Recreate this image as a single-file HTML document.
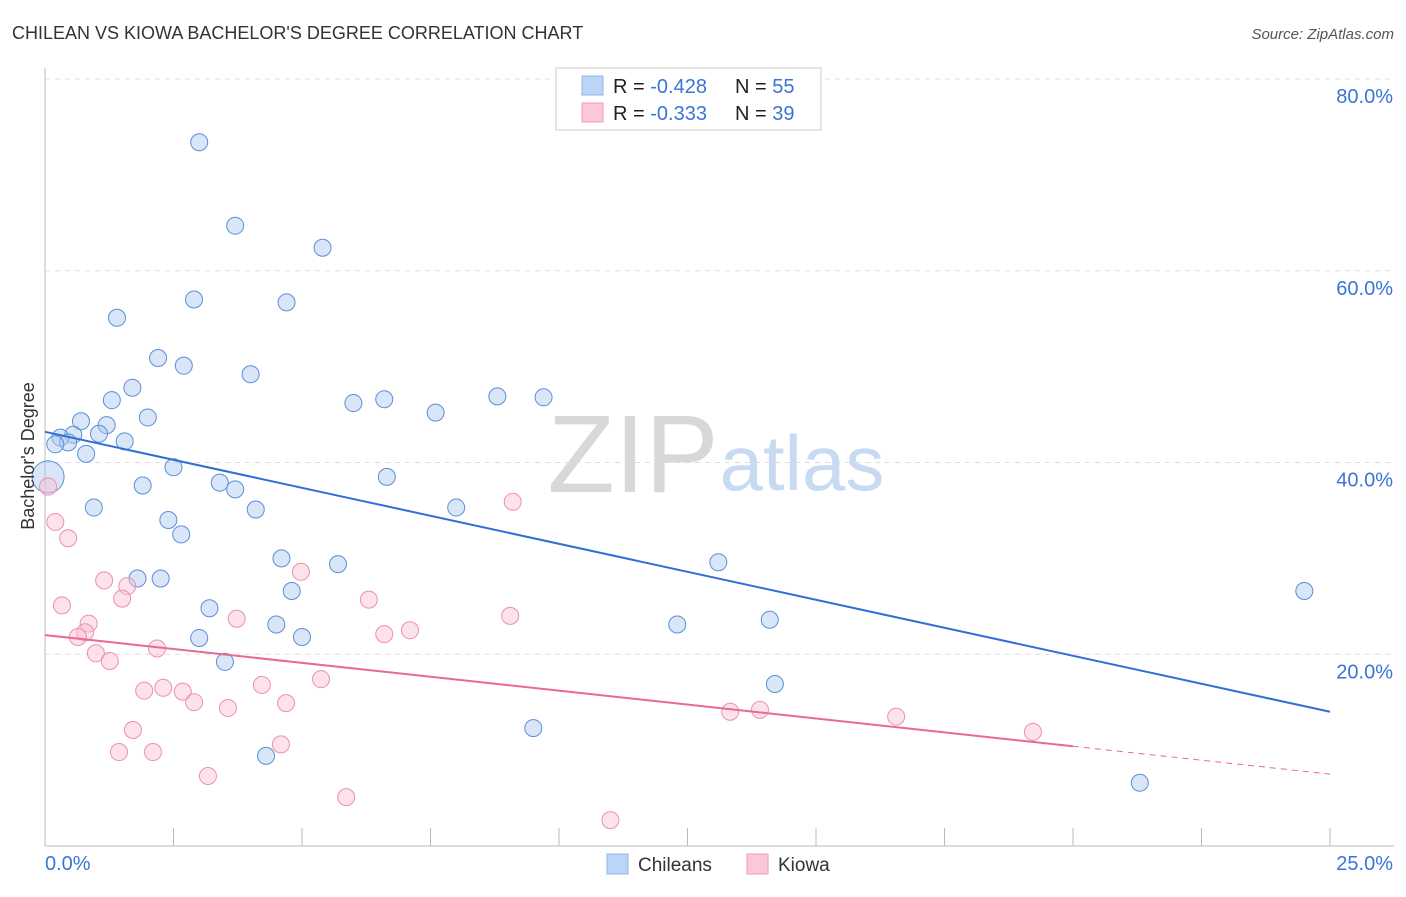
<!DOCTYPE html>
<html><head><meta charset="utf-8"><style>
body{margin:0;background:#fff;font-family:"Liberation Sans",sans-serif}
svg text{font-family:"Liberation Sans",sans-serif}
</style></head><body>
<svg id="c" width="1406" height="892" viewBox="0 0 1406 892" xmlns="http://www.w3.org/2000/svg">
<text x="12" y="39" font-size="18" fill="#333">CHILEAN VS KIOWA BACHELOR'S DEGREE CORRELATION CHART</text>
<text x="1394" y="39" font-size="15" fill="#555" font-style="italic" text-anchor="end">Source: ZipAtlas.com</text>
<g>
<text x="633" y="492" font-size="110" fill="#d8d8d8" font-family="Liberation Serif" text-anchor="middle">ZIP</text>
<text x="802" y="490" font-size="78" fill="#c8daf2" text-anchor="middle">atlas</text>
</g>
<g id="grid"></g>
<g id="axes"></g>
<g id="marks"></g>
<text transform="translate(34,456) rotate(-90)" font-size="18" fill="#333" text-anchor="middle">Bachelor's Degree</text>
<g>
<rect x="556" y="68" width="265" height="62" fill="#fff" stroke="#ccc"/>
<rect x="582" y="76" width="21" height="19" fill="#bcd4f6" stroke="#8fb3e8"/>
<rect x="582" y="103" width="21" height="19" fill="#fcc8d8" stroke="#f09ab5"/>
<text x="613" y="93" font-size="20" fill="#222">R = <tspan fill="#3a74d8">-0.428</tspan></text>
<text x="735" y="93" font-size="20" fill="#222">N = <tspan fill="#3a74d8">55</tspan></text>
<text x="613" y="120" font-size="20" fill="#222">R = <tspan fill="#3a74d8">-0.333</tspan></text>
<text x="735" y="120" font-size="20" fill="#222">N = <tspan fill="#3a74d8">39</tspan></text>
</g>
<g>
<rect x="607" y="854" width="21" height="20" fill="#bcd4f6" stroke="#8fb3e8"/>
<text x="638" y="871" font-size="19" fill="#333">Chileans</text>
<rect x="747" y="854" width="21" height="20" fill="#fcc8d8" stroke="#f09ab5"/>
<text x="778" y="871" font-size="19" fill="#333">Kiowa</text>
</g>
</svg>
<script>
const yTicks=[20,40,60,80];
const yTickLabels=["20.0%","40.0%","60.0%","80.0%"];
const xTicks=[0,2.5,5,7.5,10,12.5,15,17.5,20,22.5,25];
const chileansX=[3.0,3.7,5.4,2.9,4.7,1.4,2.2,2.7,4.0,1.7,1.3,2.0,6.0,6.6,7.6,8.8,9.7,0.7,1.2,0.55,0.3,1.05,0.45,1.55,0.2,0.8,0.06,2.5,1.9,3.4,3.7,6.65,8.0,0.95,4.1,2.4,2.65,4.6,5.7,13.1,1.8,2.25,4.8,3.2,4.5,5.0,3.0,3.5,12.3,14.1,14.2,9.5,4.3,21.3,24.5];
const chileansY=[73.4,64.7,62.4,57.0,56.7,55.1,50.9,50.1,49.2,47.8,46.5,44.7,46.2,46.6,45.2,46.9,46.8,44.3,43.9,42.9,42.6,43.0,42.1,42.2,41.9,40.9,38.5,39.5,37.6,37.9,37.2,38.5,35.3,35.3,35.1,34.0,32.5,30.0,29.4,29.6,27.9,27.9,26.6,24.8,23.1,21.8,21.7,19.2,23.1,23.6,16.9,12.3,9.4,6.6,26.6];
const kiowaX=[0.06,0.2,0.45,9.1,0.33,1.15,1.6,1.5,4.98,6.3,3.73,0.85,0.78,0.64,7.1,6.6,9.05,0.99,2.18,1.26,1.93,2.3,2.68,2.9,4.22,5.37,4.69,3.56,1.71,1.44,2.1,4.59,3.17,5.86,11.0,13.33,13.91,16.56,19.22];
const kiowaY=[37.5,33.8,32.1,35.9,25.1,27.7,27.1,25.8,28.6,25.7,23.7,23.2,22.3,21.8,22.5,22.1,24.0,20.1,20.6,19.3,16.2,16.5,16.1,15.0,16.8,17.4,14.9,14.4,12.1,9.8,9.8,10.6,7.3,5.1,2.7,14.0,14.2,13.5,11.9];
const blueLine=[43.2,14.0];
const pinkLine=[22.0,10.4,7.5];
const pinkSolidEnd=20;
const NS="http://www.w3.org/2000/svg";
const X0=45,X1=1330,Y0=846,Y1=79;
const xs=v=>X0+(X1-X0)*v/25;
const ys=v=>Y0-(Y0-Y1)*v/80;
function mk(t,a,p){const e=document.createElementNS(NS,t);for(const k in a)e.setAttribute(k,a[k]);p.appendChild(e);return e;}
const grid=document.getElementById('grid'),axes=document.getElementById('axes'),marks=document.getElementById('marks');
yTicks.forEach((t,i)=>{
 const l=mk('line',{x1:X0,x2:1394,y1:ys(t),y2:ys(t),stroke:'#ddd','stroke-dasharray':'5,5'},grid);
 
 
 const tx=mk('text',{x:1393,y:ys(t)+24,'font-size':20,fill:'#3a74d8','text-anchor':'end'},axes);
 tx.textContent=yTickLabels[i];
 
 
});
const xa=mk('line',{x1:X0,x2:1394,y1:Y0,y2:Y0,stroke:'#bbb'},axes);


const ya=mk('line',{x1:X0,x2:X0,y1:68,y2:Y0,stroke:'#bbb'},axes);


xTicks.forEach(t=>{
 const l=mk('line',{x1:xs(t),x2:xs(t),y1:828,y2:Y0,stroke:'#bbb'},axes);
 
 
});
const xl0=mk('text',{x:45,y:870,'font-size':20,fill:'#3a74d8'},axes);xl0.textContent='0.0%';


const xl1=mk('text',{x:1393,y:870,'font-size':20,fill:'#3a74d8','text-anchor':'end'},axes);xl1.textContent='25.0%';


chileansX.forEach((v,i)=>{
 const r=(i===26)?16:8.5;
 const c=mk('circle',{cx:xs(v),cy:ys(chileansY[i]),r:r,fill:'rgba(170,200,240,0.45)',stroke:'#5b8fd8','stroke-width':1},marks);
 
 
});
kiowaX.forEach((v,i)=>{
 const c=mk('circle',{cx:xs(v),cy:ys(kiowaY[i]),r:8.5,fill:'rgba(250,190,210,0.45)',stroke:'#ec8fae','stroke-width':1},marks);
 
 
});
const bl=mk('line',{x1:xs(0),y1:ys(blueLine[0]),x2:xs(25),y2:ys(blueLine[1]),stroke:'#2f6fd6','stroke-width':2},marks);


const pl=mk('line',{x1:xs(0),y1:ys(pinkLine[0]),x2:xs(pinkSolidEnd),y2:ys(pinkLine[1]),stroke:'#e8689a','stroke-width':2},marks);


const pd=mk('line',{x1:xs(pinkSolidEnd),y1:ys(pinkLine[1]),x2:xs(25),y2:ys(pinkLine[2]),stroke:'#e8689a','stroke-width':1,'stroke-dasharray':'6,5'},marks);


</script>
</body></html>
